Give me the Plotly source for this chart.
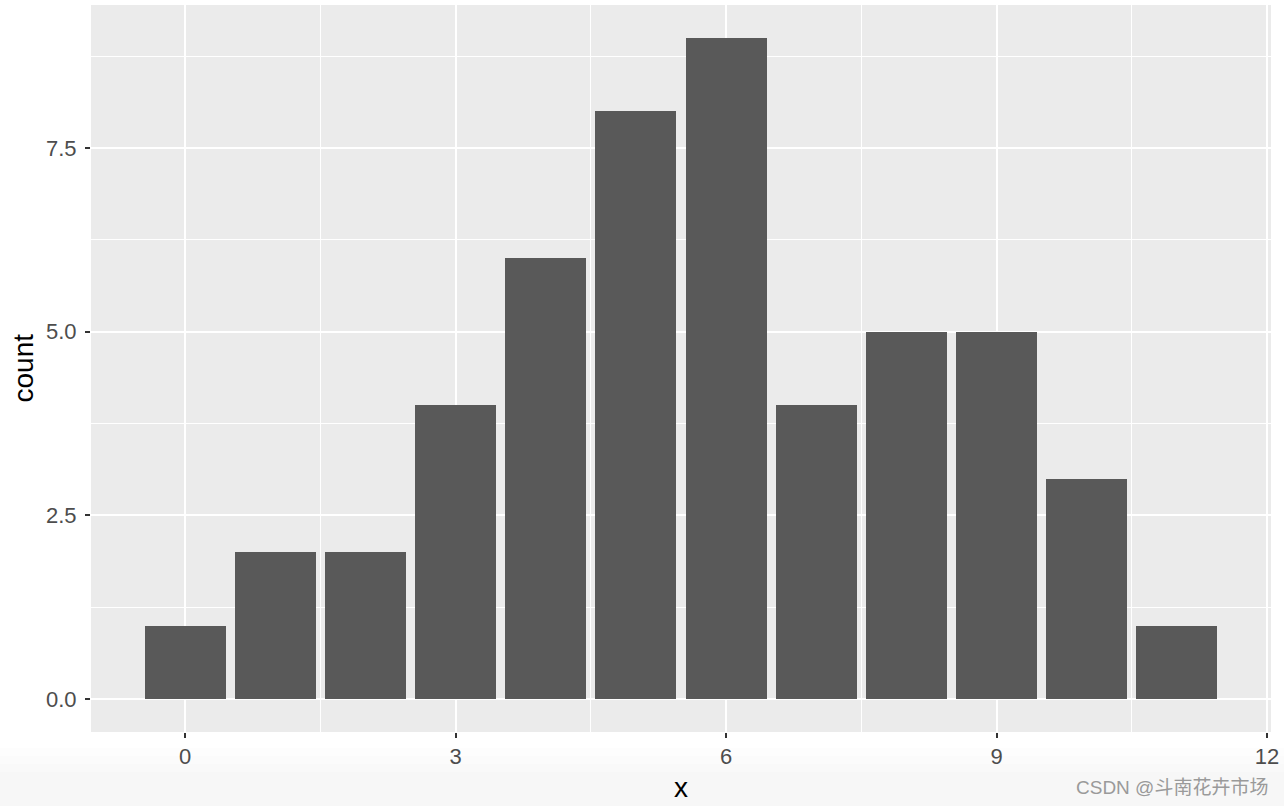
import plotly.graph_objects as go

x_vals = [0, 1, 2, 3, 4, 5, 6, 7, 8, 9, 10, 11]
counts = [1, 2, 2, 4, 6, 8, 9, 4, 5, 5, 3, 1]
x_ticks = [0, 3, 6, 9, 12]
x_ticktext = ["0", "3", "6", "9", "12"]
y_ticks = [0, 2.5, 5, 7.5]
y_ticktext = ["0.0", "2.5", "5.0", "7.5"]

W, H = 1284, 806
L, R, T, B = 91, 13, 5, 74
pw, ph = W - L - R, H - T - B

fig = go.Figure(go.Bar(x=x_vals, y=counts, width=0.9,
                       marker=dict(color="#595959", line=dict(width=0)),
                       hoverinfo="x+y"))

font_family = "Liberation Sans, Arial, sans-serif"
fig.update_layout(
    width=W, height=H,
    margin=dict(l=L, r=R, t=T, b=B, pad=0),
    paper_bgcolor="white", plot_bgcolor="#EBEBEB",
    font=dict(family=font_family),
    showlegend=False,
    bargap=0,
)
fig.update_xaxes(
    range=[-1.045, 12.045], tickvals=x_ticks, ticktext=x_ticktext,
    showgrid=True, gridcolor="white", gridwidth=2, zeroline=False,
    ticks="outside", ticklen=5, tickwidth=2, tickcolor="#333333",
    tickfont=dict(size=22, color="#4D4D4D", family=font_family),
    minor=dict(tickvals=[1.5, 4.5, 7.5, 10.5], showgrid=True, gridcolor="white", gridwidth=1, ticks=""),
    showline=False,
)
fig.update_yaxes(
    range=[-0.45, 9.45], tickvals=y_ticks, ticktext=y_ticktext,
    showgrid=True, gridcolor="white", gridwidth=2, zeroline=False,
    ticks="outside", ticklen=5, tickwidth=2, tickcolor="#333333",
    tickfont=dict(size=22, color="#4D4D4D", family=font_family),
    ticklabelstandoff=4,
    minor=dict(tickvals=[1.25, 3.75, 6.25, 8.75], showgrid=True, gridcolor="white", gridwidth=1, ticks=""),
    showline=False,
)

# faint screenshot shading at the very bottom
for i in range(4):
    y1 = -(B - 34 - i * 8) / ph
    fig.add_shape(type="rect", xref="paper", yref="paper",
                  x0=-L / pw, x1=1 + R / pw, y0=-B / ph, y1=y1,
                  fillcolor="black", opacity=0.008, line=dict(width=0), layer="below")

fig.add_annotation(text="count", xref="paper", yref="paper",
                   x=(23 - L) / pw, y=0.5, xanchor="center", yanchor="middle",
                   textangle=-90, showarrow=False,
                   font=dict(size=28, color="black", family=font_family))
fig.add_annotation(text="x", xref="paper", yref="paper",
                   x=0.5, y=(ph - (787 - T)) / ph, xanchor="center", yanchor="middle",
                   showarrow=False, font=dict(size=28, color="black", family=font_family))
fig.add_annotation(text="CSDN @斗南花卉市场", xref="paper", yref="paper",
                   x=(1270 - L) / pw, y=(ph - (787 - T)) / ph, xanchor="right", yanchor="middle",
                   showarrow=False,
                   font=dict(size=19, color="#9A9A9A", family="Liberation Sans, Noto Sans CJK SC, sans-serif"))

fig.write_html("out.html", config={"displayModeBar": False},
               post_script="document.body.style.margin='0px';document.body.style.overflow='hidden';")
